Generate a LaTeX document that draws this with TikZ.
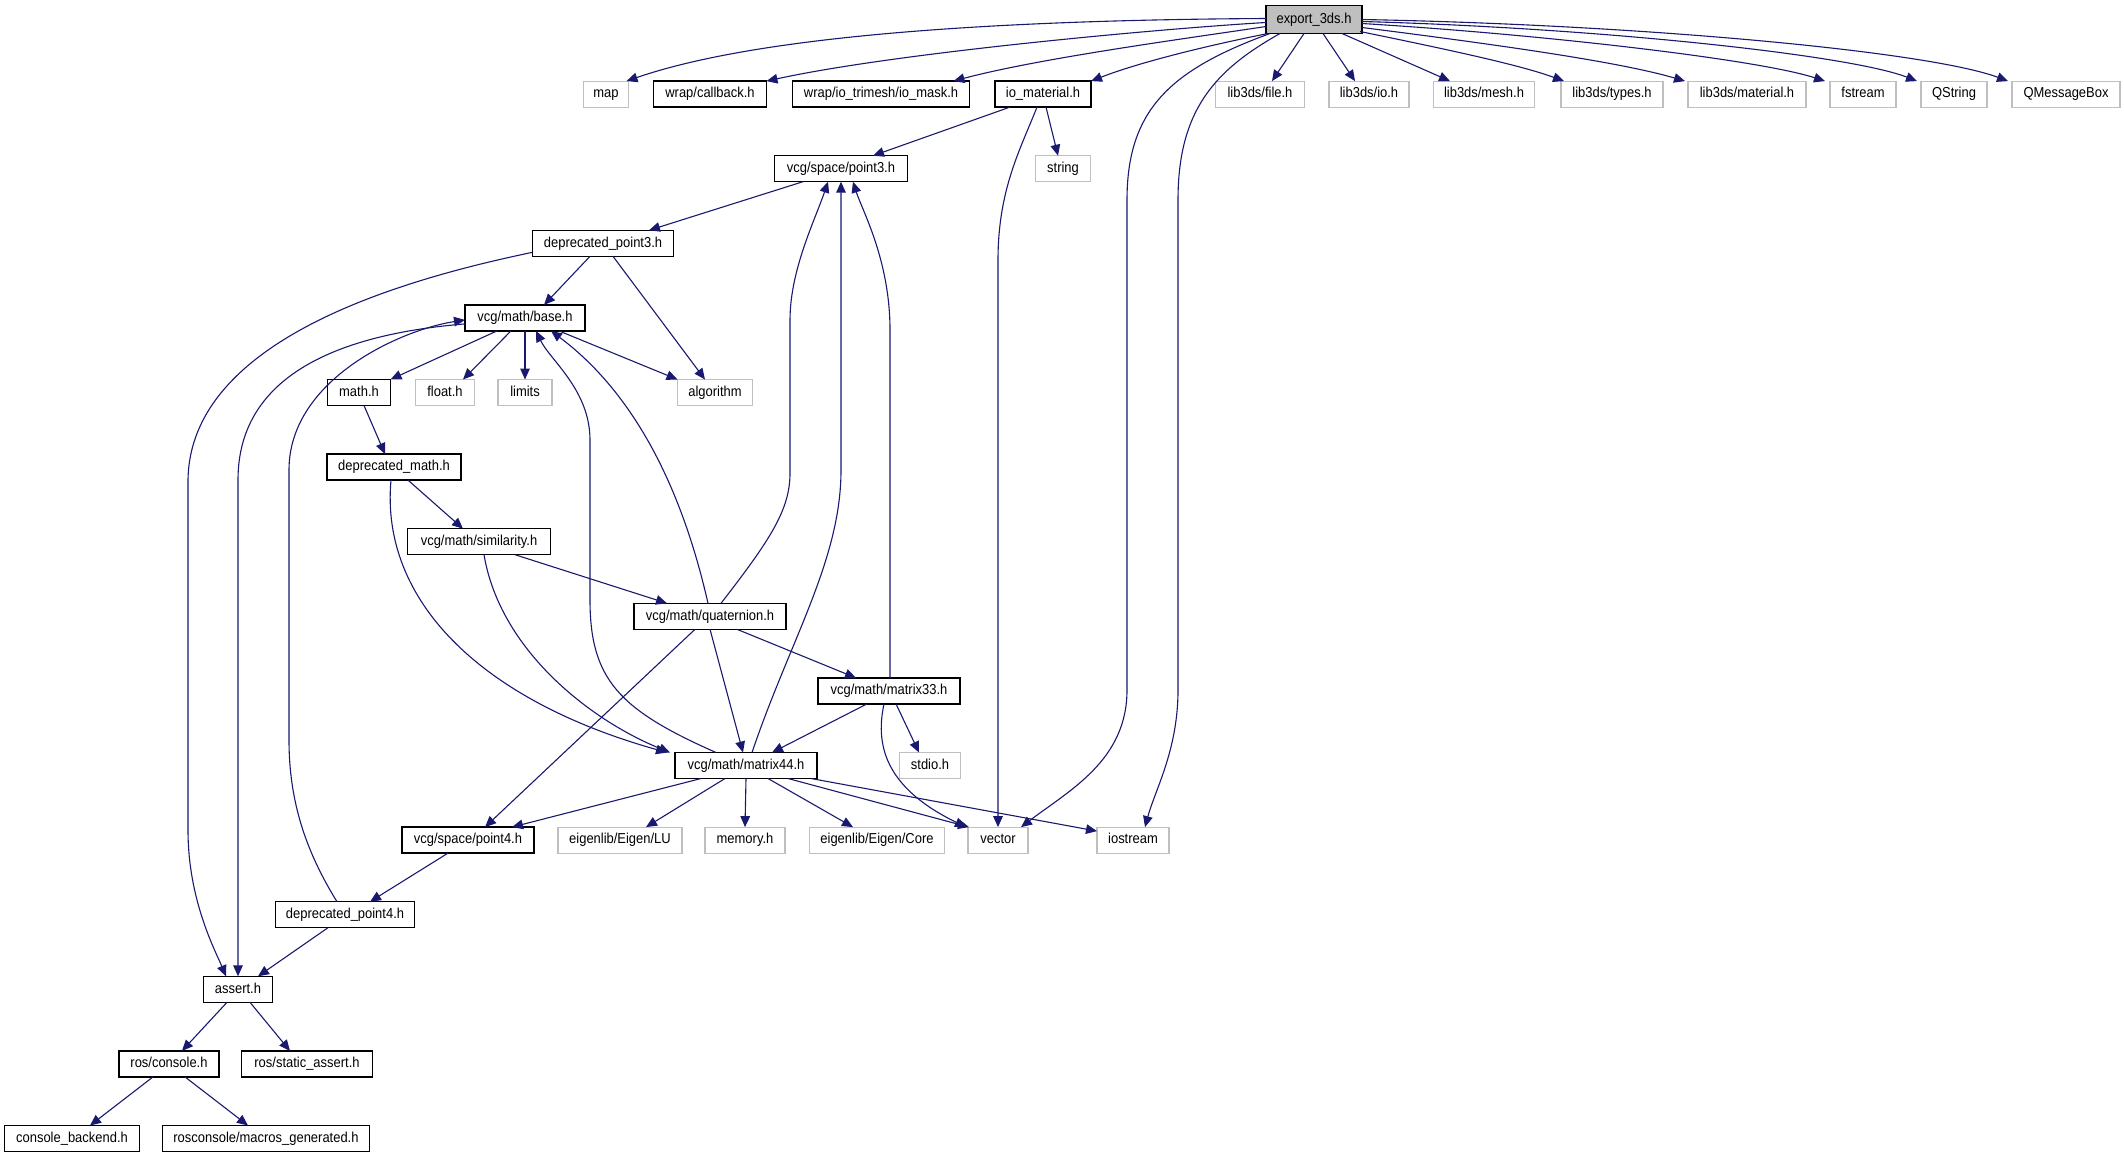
\documentclass[tikz,border=0pt]{standalone}
\usepackage{fontspec}
\setmainfont{Liberation Sans}[FakeStretch=0.9]
\usetikzlibrary{arrows.meta,calc}
\definecolor{edgecol}{HTML}{191970}
\definecolor{extgray}{HTML}{BFBFBF}
\begin{document}
\begin{tikzpicture}[x=0.5pt,y=-0.5pt,
  every node/.style={font=\fontsize{7.2}{8}\selectfont, minimum height=13pt, inner sep=0pt, outer sep=0pt, text height=5.4pt, text depth=1.6pt},
  bw/.style={minimum width=#1*0.5pt},
  inc/.style={draw=black, line width=0.7pt, fill=white},
  ext/.style={draw=extgray, line width=0.6pt, fill=white},
  dep/.style={draw=edgecol, line width=0.55pt, -{Triangle[length=5.5pt,width=4.8pt]}}
]
\path[use as bounding box, fill=white] (0,0) rectangle (2124,1157);
% row 0
\node[inc, bw=96, minimum height=14pt, fill=extgray] (exp) at (1314,19.5) {export\_3ds.h};
% row 1
\node[ext, bw=45]  (map)    at (606,94.1)  {map};
\node[inc, bw=113] (cb)     at (710,94.1)  {wrap/callback.h};
\node[inc, bw=177] (mask)   at (881,94.1)  {wrap/io\_trimesh/io\_mask.h};
\node[inc, bw=96]  (iomat)  at (1043,94.1) {io\_material.h};
\node[ext, bw=89]  (lfile)  at (1260,94.1) {lib3ds/file.h};
\node[ext, bw=80]  (lio)    at (1369,94.1) {lib3ds/io.h};
\node[ext, bw=101] (lmesh)  at (1484,94.1) {lib3ds/mesh.h};
\node[ext, bw=102] (ltypes) at (1612,94.1) {lib3ds/types.h};
\node[ext, bw=118] (lmat)   at (1747,94.1) {lib3ds/material.h};
\node[ext, bw=66]  (fstr)   at (1863,94.1) {fstream};
\node[ext, bw=66]  (qstr)   at (1954,94.1) {QString};
\node[ext, bw=108] (qmb)    at (2066,94.1) {QMessageBox};
% row 2
\node[inc, bw=133] (p3)  at (841,168.7)  {vcg/space/point3.h};
\node[ext, bw=55]  (str) at (1063,168.7) {string};
% row 3
\node[inc, bw=141] (dp3) at (603,243.3) {deprecated\_point3.h};
% row 4
\node[inc, bw=120] (base) at (525,317.9) {vcg/math/base.h};
% row 5
\node[inc, bw=63] (mathh)  at (359,392.5) {math.h};
\node[ext, bw=59] (floath) at (445,392.5) {float.h};
\node[ext, bw=54] (limits) at (525,392.5) {limits};
\node[ext, bw=75] (algo)   at (715,392.5) {algorithm};
% rows 6-10
\node[inc, bw=134] (dmath) at (394,467.1) {deprecated\_math.h};
\node[inc, bw=143] (sim)   at (479,541.7) {vcg/math/similarity.h};
\node[inc, bw=152] (quat)  at (710,616.3) {vcg/math/quaternion.h};
\node[inc, bw=142] (m33)   at (889,690.9) {vcg/math/matrix33.h};
\node[inc, bw=142] (m44)   at (746,765.5) {vcg/math/matrix44.h};
\node[ext, bw=61]  (stdio) at (930,765.5) {stdio.h};
% row 11
\node[inc, bw=132] (p4)   at (468,840.1)  {vcg/space/point4.h};
\node[ext, bw=124] (lu)   at (620,840.1)  {eigenlib/Eigen/LU};
\node[ext, bw=80]  (mem)  at (745,840.1)  {memory.h};
\node[ext, bw=135] (core) at (877,840.1)  {eigenlib/Eigen/Core};
\node[ext, bw=60]  (vec)  at (998,840.1)  {vector};
\node[ext, bw=72]  (ios)  at (1133,840.1) {iostream};
% rows 12-15
\node[inc, bw=139] (dp4)    at (345,914.7)  {deprecated\_point4.h};
\node[inc, bw=69]  (assert) at (238,989.3)  {assert.h};
\node[inc, bw=100] (rcon)   at (169,1063.9) {ros/console.h};
\node[inc, bw=131] (rsa)    at (307,1063.9) {ros/static\_assert.h};
\node[inc, bw=135] (cback)  at (72,1138.5)  {console\_backend.h};
\node[inc, bw=207] (macros) at (266,1138.5) {rosconsole/macros\_generated.h};

% edges from export_3ds.h
\draw[dep] ($(exp.west)+(0,-1)$) .. controls (1000,20) and (760,35) .. ($(map.north east)+(-2,0)$);
\draw[dep] ($(exp.west)+(0,3)$) .. controls (1170,28) and (900,52) .. (cb.north east);
\draw[dep] ($(exp.west)+(0,7)$) .. controls (1190,38) and (1040,58) .. ($(mask.north east)+(-16,0)$);
\draw[dep] ($(exp.south west)+(2,0)$) .. controls (1210,45) and (1140,62) .. (iomat.north east);
\draw[dep] ($(exp.south)+(-10,0)$) -- ($(lfile.north)+(12,0)$);
\draw[dep] ($(exp.south)+(9,0)$) -- ($(lio.north)+(-14,0)$);
\draw[dep] ($(exp.south)+(28,0)$) -- ($(lmesh.north)+(-34,0)$);
\draw[dep] ($(exp.south east)+(-2,-2)$) .. controls (1450,50) and (1520,65) .. ($(ltypes.north west)+(3,0)$);
\draw[dep] ($(exp.east)+(0,8)$) .. controls (1500,45) and (1620,62) .. ($(lmat.north west)+(-3,0)$);
\draw[dep] ($(exp.east)+(0,4)$) .. controls (1550,35) and (1760,60) .. ($(fstr.north west)+(-5,0)$);
\draw[dep] ($(exp.east)+(0,2)$) .. controls (1600,28) and (1850,55) .. ($(qstr.north west)+(-4,0)$);
\draw[dep] (exp.east) .. controls (1650,25) and (1930,52) .. ($(qmb.north west)+(-4,0)$);
\draw[dep] ($(exp.south west)+(4,0)$) .. controls (1170,70) and (1127,110) .. (1127,200)
  -- (1127,690) .. controls (1127,760) and (1070,790) .. ($(vec.north east)+(-7,0)$);
\draw[dep] ($(exp.south west)+(14,0)$) .. controls (1215,70) and (1178,110) .. (1178,200)
  -- (1178,690) .. controls (1178,750) and (1155,790) .. ($(ios.north)+(12,0)$);

% io_material.h
\draw[dep] ($(iomat.south)+(-6,0)$) .. controls (1020,150) and (998,190) .. (998,260) -- (vec.north);
\draw[dep] ($(iomat.south)+(3,0)$) -- ($(str.north)+(-5,0)$);
\draw[dep] ($(iomat.south)+(-33,0)$) -- ($(p3.north)+(32,0)$);

% point3 / deprecated_point3
\draw[dep] ($(p3.south)+(-38,0)$) -- ($(dp3.north)+(46,0)$);
\draw[dep] ($(dp3.south)+(-13,0)$) -- ($(base.north)+(19,0)$);
\draw[dep] ($(dp3.south)+(10,0)$) -- ($(algo.north)+(-10,0)$);
\draw[dep] ($(dp3.west)+(0,9)$) .. controls (400,280) and (190,340) .. (188,480)
  -- (188,830) .. controls (188,900) and (215,950) .. ($(assert.north)+(-12,0)$);

% base
\draw[dep] ($(base.west)+(0,6)$) .. controls (330,335) and (238,380) .. (238,480) -- (assert.north);
\draw[dep] ($(base.south)+(-28,0)$) -- (mathh.north east);
\draw[dep] ($(base.south)+(-14,0)$) -- ($(floath.north)+(18,0)$);
\draw[dep] (base.south) -- (limits.north);
\draw[dep] ($(base.south)+(34,0)$) -- (algo.north west);

% math / deprecated_math / similarity
\draw[dep] ($(mathh.south)+(5,0)$) -- ($(dmath.north)+(-9,0)$);
\draw[dep] ($(dmath.south)+(14,0)$) -- ($(sim.north)+(-16,0)$);
\draw[dep] ($(dmath.south)+(-3,0)$) .. controls (380,600) and (480,700) .. ($(m44.north west)+(-8,0)$);
\draw[dep] ($(sim.south)+(5,0)$) .. controls (500,650) and (590,720) .. ($(m44.north west)+(-5,0)$);
\draw[dep] ($(sim.south)+(36,0)$) -- ($(quat.north)+(-43,0)$);

% quaternion
\draw[dep] ($(quat.north)+(-2,0)$) .. controls (680,480) and (630,390) .. ($(base.south)+(26,0)$);
\draw[dep] ($(quat.north)+(11,0)$) .. controls (770,540) and (790,510) .. (790,473)
  -- (790,320) .. controls (790,270) and (815,220) .. ($(p3.south)+(-13,0)$);
\draw[dep] ($(quat.south)+(27,0)$) -- ($(m33.north)+(-33,0)$);
\draw[dep] (quat.south) -- ($(m44.north)+(-3,0)$);
\draw[dep] ($(quat.south)+(-15,0)$) -- ($(p4.north)+(17,0)$);

% matrix33
\draw[dep] ($(m33.north)+(1,0)$) -- (890,330) .. controls (890,260) and (862,210) .. ($(p3.south)+(12,0)$);
\draw[dep] ($(m33.south)+(-22,0)$) -- ($(m44.north)+(26,0)$);
\draw[dep] ($(m33.south)+(7,0)$) -- ($(stdio.north)+(-11,0)$);
\draw[dep] ($(m33.south)+(-5,0)$) .. controls (874,750) and (890,790) .. ($(vec.north west)+(-2,0)$);

% matrix44
\draw[dep] ($(m44.north)+(6,0)$) .. controls (790,640) and (841,560) .. (841,470) -- (p3.south);
\draw[dep] ($(m44.north)+(-30,0)$) .. controls (620,710) and (590,680) .. (590,600)
  -- (590,440) .. controls (590,390) and (550,360) .. ($(base.south)+(11,0)$);
\draw[dep] ($(m44.south)+(-45,0)$) -- ($(p4.north east)+(-22,0)$);
\draw[dep] ($(m44.south)+(-21,0)$) -- ($(lu.north)+(26,0)$);
\draw[dep] (m44.south) -- (mem.north);
\draw[dep] ($(m44.south)+(22,0)$) -- ($(core.north)+(-24,0)$);
\draw[dep] ($(m44.south)+(42,0)$) -- ($(vec.north west)+(1,0)$);
\draw[dep] ($(m44.south east)+(-6,0)$) -- ($(ios.north west)+(0,4)$);

% point4 / deprecated_point4
\draw[dep] ($(p4.south)+(-20,0)$) -- ($(dp4.north)+(25,0)$);
\draw[dep] ($(dp4.north)+(-8,0)$) .. controls (305,850) and (289,800) .. (289,740)
  -- (289,470) .. controls (289,380) and (400,330) .. ($(base.west)+(0,2)$);
\draw[dep] ($(dp4.south)+(-17,0)$) -- ($(assert.north)+(20,0)$);

% assert / console
\draw[dep] ($(assert.south)+(-11,0)$) -- ($(rcon.north)+(13,0)$);
\draw[dep] ($(assert.south)+(12,0)$) -- ($(rsa.north)+(-17,0)$);
\draw[dep] ($(rcon.south)+(-16,0)$) -- ($(cback.north)+(18,0)$);
\draw[dep] ($(rcon.south)+(16,0)$) -- ($(macros.north)+(-18,0)$);
\end{tikzpicture}
\end{document}
